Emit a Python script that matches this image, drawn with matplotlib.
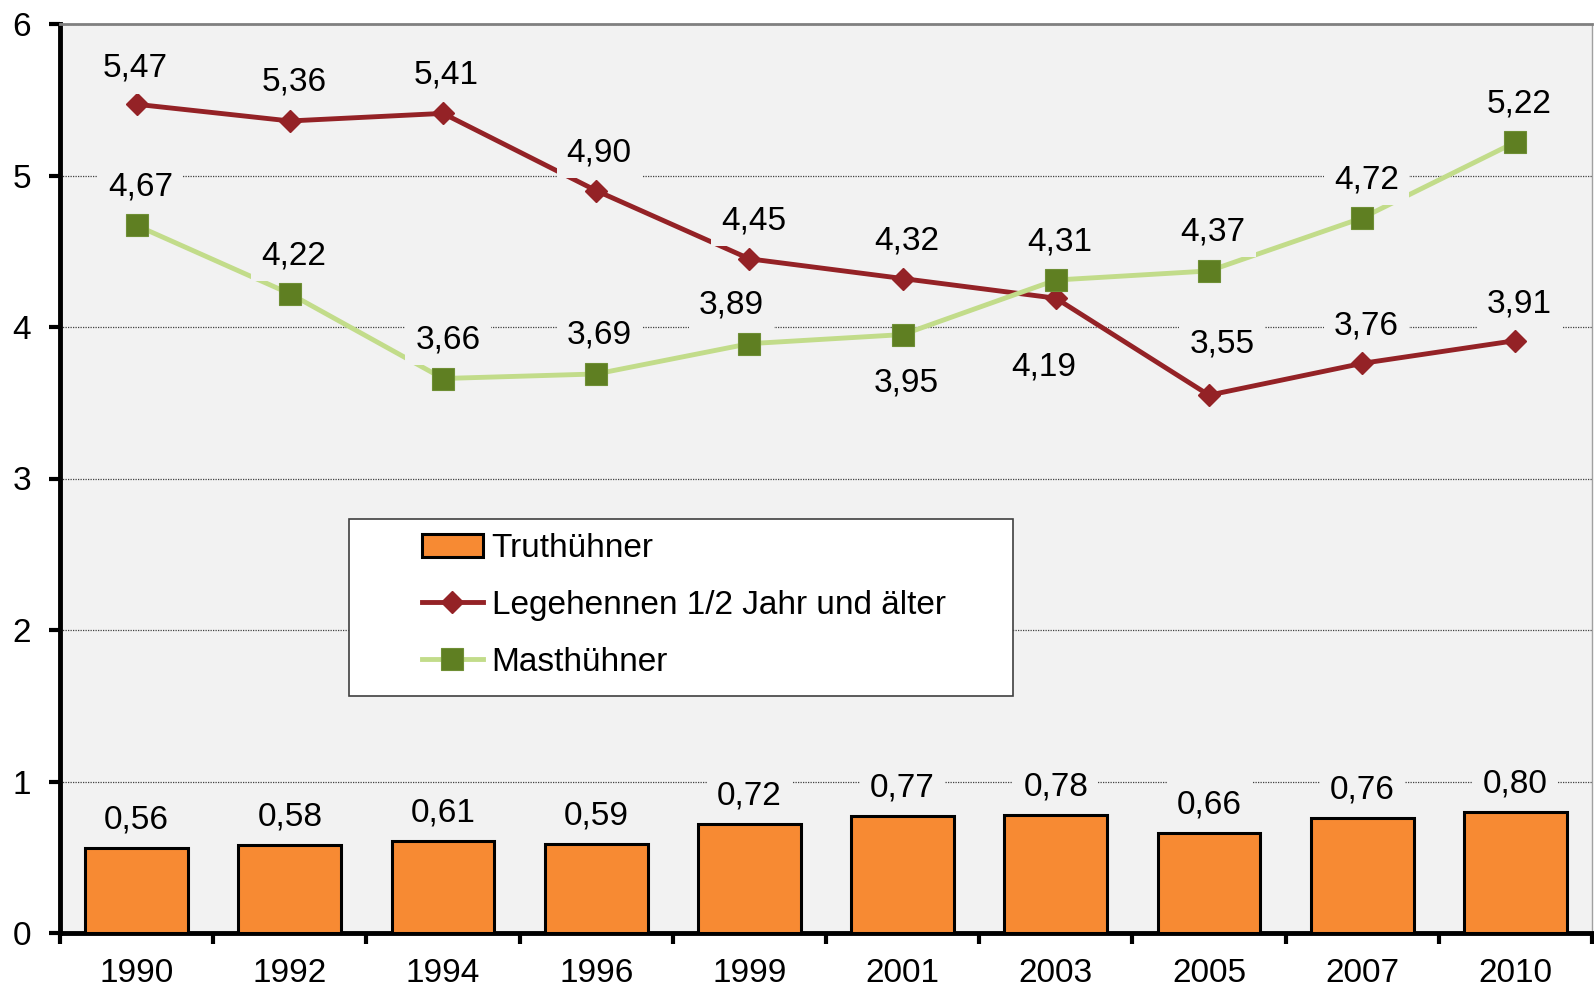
import matplotlib.pyplot as plt
import matplotlib.patches as mpatches
import numpy as np

# Daten
years       = ["1990", "1992", "1994", "1996", "1999", "2001", "2003", "2005", "2007", "2010"]
truthuehner = [0.56, 0.58, 0.61, 0.59, 0.72, 0.77, 0.78, 0.66, 0.76, 0.80]
legehennen  = [5.47, 5.36, 5.41, 4.90, 4.45, 4.32, 4.19, 3.55, 3.76, 3.91]
masthuehner = [4.67, 4.22, 3.66, 3.69, 3.89, 3.95, 4.31, 4.37, 4.72, 5.22]

# Label-Versatz (Pixel) je Punkt
red_dx   = [-1, 4, 3, 3, 4, 4, -12, 13, 4, 4]
red_dy   = [36, 39, 38, 38, 38, 38, -69, 51, 37, 37]
green_dx = [4, 4, 5, 3, -18, 4, 4, 4, 4, 4]
green_dy = [38, 38, 39, 39, 39, -48, 38, 39, 38, 38]

BG     = "#f2f2f2"
ORANGE = "#f78a33"
RED    = "#942226"
LGREEN = "#c2dc8a"
DGREEN = "#5f7f22"
FS     = 24

plt.rcParams["font.family"] = ["Liberation Sans", "DejaVu Sans"]

fig = plt.figure(figsize=(15.94, 9.94), dpi=100)
ax = fig.add_axes([60 / 1594, 1 - 933 / 994, 1532 / 1594, 909 / 994])
ax.set_facecolor(BG)

x = np.arange(len(years))

def fmt(v):
    return f"{v:.2f}".replace(".", ",")

lbl_box = dict(boxstyle="square,pad=0.3", facecolor=BG, edgecolor="none")

bars = ax.bar(x, truthuehner, width=0.67, color=ORANGE, edgecolor="black",
              linewidth=2.2, zorder=3, label="Truthühner")
l1, = ax.plot(x, legehennen, color=RED, linewidth=3.5, marker="D", markersize=11,
              markerfacecolor=RED, markeredgecolor=RED, zorder=4,
              label="Legehennen 1/2 Jahr und älter")
l2, = ax.plot(x, masthuehner, color=LGREEN, linewidth=3.5, marker="s", markersize=16,
              markerfacecolor=DGREEN, markeredgecolor="#6f8f35", markeredgewidth=0.8,
              zorder=5, label="Masthühner")

for xi, v in zip(x, truthuehner):
    ax.annotate(fmt(v), (xi, v), xytext=(0, 28), textcoords="offset pixels",
                ha="center", va="center", fontsize=FS, bbox=lbl_box, zorder=6)
for xi, v, dx, dy in zip(x, legehennen, red_dx, red_dy):
    ax.annotate(fmt(v), (xi, v), xytext=(dx, dy), textcoords="offset pixels",
                ha="center", va="center", fontsize=FS, bbox=lbl_box, zorder=6)
for xi, v, dx, dy in zip(x, masthuehner, green_dx, green_dy):
    ax.annotate(fmt(v), (xi, v), xytext=(dx, dy), textcoords="offset pixels",
                ha="center", va="center", fontsize=FS, bbox=lbl_box, zorder=6)

ax.set_xlim(-0.5, len(years) - 0.5)
ax.set_ylim(0, 6)
ax.set_yticks(range(0, 7))
ax.yaxis.grid(True, linestyle=(0, (1, 1)), color="#404040", linewidth=0.9, zorder=1)
ax.set_axisbelow(True)

ax.set_xticks(x)
ax.set_xticklabels(years)
ax.set_xticks(np.arange(-0.5, len(years)), minor=True)
ax.tick_params(axis="x", which="major", length=0, pad=18, labelsize=FS)
ax.tick_params(axis="x", which="minor", length=8, width=3, direction="out")
ax.tick_params(axis="y", which="major", length=8, width=3, direction="out",
               pad=13, labelsize=FS)

ax.spines["left"].set_linewidth(3.5)
ax.spines["bottom"].set_linewidth(3.5)
ax.spines["top"].set_color("#808080")
ax.spines["top"].set_linewidth(2)
ax.spines["right"].set_color("#a0a0a0")
ax.spines["right"].set_linewidth(1)

# Legendenrahmen
frame = mpatches.Rectangle((0.1886, 0.2607), 0.622 - 0.1886, 0.4554 - 0.2607,
                           transform=ax.transAxes, facecolor="white",
                           edgecolor="#404040", linewidth=1.2, zorder=7)
ax.add_patch(frame)
leg = ax.legend(handles=[bars, l1, l2], loc="upper left",
                bbox_to_anchor=(0.236, 0.440), frameon=False, fontsize=FS,
                borderpad=0, borderaxespad=0, handlelength=1.85,
                handletextpad=0.25, labelspacing=0.78)
leg.set_zorder(8)

plt.savefig("out.png", dpi=100, facecolor="white")
